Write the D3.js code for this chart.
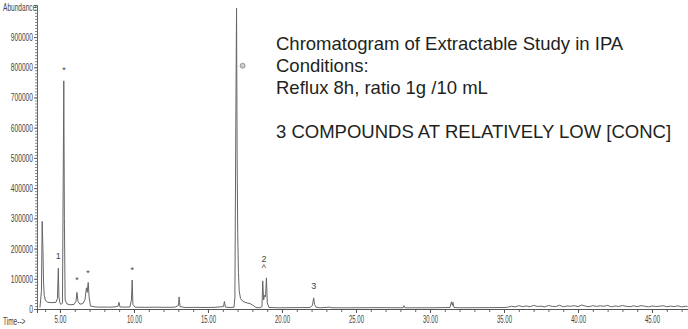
<!DOCTYPE html>
<html>
<head>
<meta charset="utf-8">
<script src="https://cdn.jsdelivr.net/npm/d3@7/dist/d3.min.js"></script>
<style>
  body { margin: 0; background: #fff; }
  svg { display: block; }
  .tick text, .small { font-family: "Liberation Sans Narrow", "Liberation Sans", Arial, sans-serif; fill: #444; }
  .note { font-family: "Liberation Sans", Arial, sans-serif; font-size: 18.5px; fill: #231f20; }
</style>
</head>
<body>
<div id="chart"></div>
<script>
// retention time (min) and abundance
const traceTime = [
  3.65, 3.75, 3.80, 3.85, 3.89, 3.94, 4.02, 4.19, 4.46, 4.73, 4.83, 4.89, 4.93, 5.00, 5.07,
  5.17, 5.22, 5.26, 5.30, 5.35, 5.47, 5.68, 5.95, 6.08, 6.15, 6.22, 6.35, 6.55, 6.69, 6.79,
  6.84, 6.91, 6.97, 7.06, 7.36, 7.70, 8.04, 8.38, 8.72, 8.92, 8.99, 9.05, 9.39, 9.73, 9.83,
  9.88, 9.93, 10.07, 10.74, 11.42, 12.09, 12.77, 13.01, 13.05, 13.11, 13.45, 14.12, 14.80, 15.47,
  16.05, 16.11, 16.18, 16.49, 16.76, 16.82, 16.88, 16.93, 16.97, 17.01, 17.06, 17.11, 17.20, 17.36,
  17.64, 17.84, 18.04, 18.24, 18.51, 18.65, 18.70, 18.76, 18.82, 18.89, 18.95, 19.01, 19.12, 19.86,
  20.88, 21.89, 22.06, 22.14, 22.20, 22.30, 22.57, 23.24, 23.38, 24.59, 26.62, 28.18, 28.24, 28.31,
  30.00, 31.35, 31.45, 31.51, 31.55, 31.62, 32.03, 34.05, 35.07,
  35.25, 35.50, 35.75, 36.00, 36.25, 36.50, 36.75, 37.00, 37.25, 37.50, 37.75, 38.00, 38.25,
  38.50, 38.75, 39.00, 39.25, 39.50, 39.75, 40.00, 40.25, 40.50, 40.75, 41.00, 41.25, 41.50,
  41.75, 42.00, 42.25, 42.50, 42.75, 43.00, 43.25, 43.50, 43.75, 44.00, 44.25, 44.50, 44.75,
  45.00, 45.25, 45.50, 45.75, 46.00, 46.25, 46.50, 46.75, 47.00, 47.25, 47.40
];
const traceAbund = [
  5000, 60000, 290000, 200000, 90000, 45000, 28000, 22000, 21000, 22000, 35000, 135000, 40000, 20000, 15000,
  20000, 420000, 755000, 300000, 30000, 17000, 14000, 15000, 25000, 55000, 25000, 16000, 18000, 30000, 70000,
  55000, 88000, 40000, 10000, 7000, 6000, 6500, 6000, 7000, 9000, 22000, 7000, 6000, 7000, 30000,
  96000, 15000, 6000, 5500, 6000, 5500, 6000, 12000, 40000, 8000, 5000, 5500, 5000, 5500,
  8000, 25000, 6000, 5000, 6000, 40000, 600000, 996000, 500000, 250000, 120000, 60000, 35000, 25000,
  20000, 18000, 12000, 5000, 4000, 8000, 93000, 30000, 45000, 40000, 103000, 20000, 5000, 4000,
  4500, 5000, 12000, 37000, 15000, 6000, 4000, 6000, 4000, 4000, 4500, 4000, 11000, 4000,
  4000, 5000, 24000, 12000, 22000, 5000, 4000, 4500, 5000,
  6000, 9000, 7000, 11000, 8000, 10000, 7500, 12000, 8500, 9500, 7000, 11500, 9000,
  8000, 12500, 7500, 10000, 9000, 11000, 8000, 13000, 9500, 7500, 11000, 8500, 10500,
  9000, 12000, 7000, 10000, 8500, 11500, 9000, 7500, 10500, 8000, 11000, 9500, 7000,
  10000, 8500, 9000, 11000, 7500, 9500, 8000, 10500, 7000, 9000, 8000
];

// peak annotations: time, abundance where the mark sits, text
const peakTime = [4.89, 5.27, 6.15, 6.90, 9.88, 18.78, 18.78, 22.15];
const peakAbund = [165000, 780000, 85000, 108000, 120000, 155000, 125000, 65000];
const peakText = ["1", "*", "*", "*", "*", "2", "^", "3"];

const yTicks = [0, 100000, 200000, 300000, 400000, 500000, 600000, 700000, 800000, 900000];
const xTicks = [5, 10, 15, 20, 25, 30, 35, 40, 45];

const noteLines = [
  "Chromatogram of Extractable Study in IPA",
  "Conditions:",
  "Reflux 8h, ratio 1g /10 mL",
  "",
  "3 COMPOUNDS AT RELATIVELY LOW [CONC]"
];

const W = 688, H = 329;
const margin = { top: 5, right: 0, bottom: 20, left: 37 };

const svg = d3.select("#chart").append("svg")
  .attr("width", W).attr("height", H);

const x = d3.scaleLinear().domain([3.45, 47.43]).range([margin.left, W - margin.right]);
const y = d3.scaleLinear().domain([0, 1006000]).range([H - margin.bottom, margin.top]);

// condensed tick labels like the instrument printout
function squeeze(sel, perChar) {
  sel.attr("textLength", function () { return this.textContent.length * perChar; })
    .attr("lengthAdjust", "spacingAndGlyphs");
}

// minor ticks
svg.append("g")
  .attr("transform", `translate(${margin.left},0)`)
  .call(d3.axisLeft(y).tickValues(d3.range(0, 1000001, 10000)).tickSize(2).tickFormat(""))
  .call(g => g.selectAll("line, path").attr("stroke", "#888"));

svg.append("g")
  .attr("transform", `translate(0,${H - margin.bottom})`)
  .call(d3.axisBottom(x).tickValues(d3.range(4, 48, 1)).tickSize(3).tickFormat(""))
  .call(g => g.selectAll("line, path").attr("stroke", "#666"));

// major axes
svg.append("g")
  .attr("transform", `translate(${margin.left},0)`)
  .call(d3.axisLeft(y).tickValues(yTicks).tickSize(3).tickPadding(1).tickFormat(d3.format("d")))
  .call(g => g.select(".domain").attr("stroke", "#666"))
  .call(g => g.selectAll(".tick line").attr("stroke", "#666"))
  .call(g => g.selectAll(".tick text").attr("font-size", 10).attr("dy", "0.35em").call(squeeze, 3.7));

svg.append("g")
  .attr("transform", `translate(0,${H - margin.bottom})`)
  .call(d3.axisBottom(x).tickValues(xTicks).tickSize(4).tickPadding(3).tickFormat(d3.format(".2f")))
  .call(g => g.select(".domain").attr("stroke", "#555"))
  .call(g => g.selectAll(".tick line").attr("stroke", "#555"))
  .call(g => g.selectAll(".tick text").attr("font-size", 10).call(squeeze, 3.0));

svg.append("text").attr("class", "small")
  .attr("x", 3).attr("y", 11).attr("font-size", 10)
  .text("Abundance").call(squeeze, 3.7);

svg.append("text").attr("class", "small")
  .attr("x", 3).attr("y", 325).attr("font-size", 10)
  .text("Time-->").call(squeeze, 3.2);

// trace
const pts = traceTime.map((t, i) => [t, traceAbund[i]]);
svg.append("path")
  .datum(pts)
  .attr("fill", "none")
  .attr("stroke", "#666")
  .attr("stroke-width", 1)
  .attr("d", d3.line().x(d => x(d[0])).y(d => y(d[1])));

// peak marks
svg.selectAll(".peak")
  .data(peakTime.map((t, i) => ({ t, v: peakAbund[i], s: peakText[i] })))
  .join("text")
  .attr("class", "small")
  .attr("x", d => x(d.t))
  .attr("y", d => y(d.v))
  .attr("text-anchor", "middle")
  .attr("font-size", 9)
  .attr("fill", "#666")
  .text(d => d.s);

// internal standard symbol next to the big peak
svg.append("circle")
  .attr("cx", x(17.34)).attr("cy", y(805000))
  .attr("r", 2.5)
  .attr("fill", "#ccc").attr("stroke", "#888").attr("stroke-width", 0.8);

// note block
svg.append("g").selectAll("text")
  .data(noteLines)
  .join("text")
  .attr("class", "note")
  .attr("x", 276)
  .attr("y", (d, i) => 50 + i * 22)
  .text(d => d);
</script>
</body>
</html>
